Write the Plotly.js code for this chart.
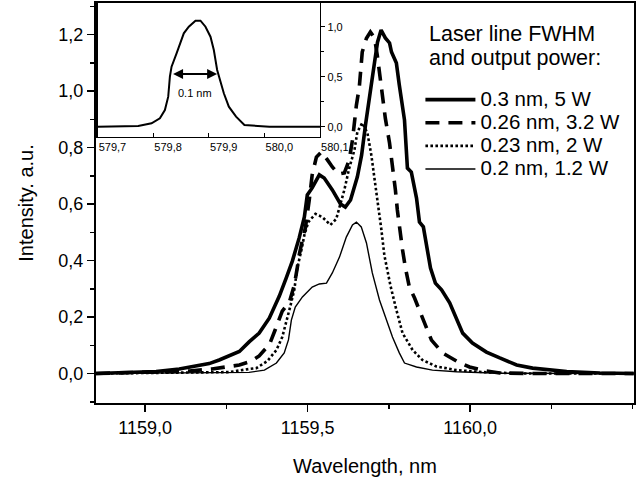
<!DOCTYPE html>
<html>
<head>
<meta charset="utf-8">
<script src="https://cdn.plot.ly/plotly-3.0.1.min.js"></script>
<style>html,body{margin:0;padding:0;background:#fff;}#chart{width:637px;height:478px;}</style>
</head>
<body>
<div id="chart"></div>
<script>
// ---- Data ----
const seriesNames = ["0.3 nm, 5 W", "0.26 nm, 3.2 W", "0.23 nm, 2 W", "0.2 nm, 1.2 W"];
const legendTitleLines = ["Laser line FWHM", "and output power:"];

const wl5W = [1158.849,1158.951,1159.034,1159.105,1159.166,1159.197,1159.228,1159.259,1159.290,1159.320,1159.351,1159.382,1159.413,1159.434,1159.453,1159.474,1159.490,1159.499,1159.514,1159.536,1159.551,1159.576,1159.601,1159.616,1159.632,1159.653,1159.666,1159.678,1159.690,1159.706,1159.715,1159.726,1159.739,1159.752,1159.758,1159.773,1159.782,1159.798,1159.807,1159.819,1159.835,1159.844,1159.856,1159.866,1159.878,1159.893,1159.912,1159.937,1159.961,1159.977,1160.007,1160.050,1160.091,1160.143,1160.192,1160.297,1160.399,1160.503];
const int5W = [0,0.004,0.007,0.016,0.027,0.035,0.048,0.062,0.078,0.112,0.143,0.196,0.274,0.338,0.398,0.480,0.554,0.632,0.657,0.703,0.692,0.650,0.600,0.589,0.614,0.696,0.773,0.880,0.968,1.103,1.173,1.216,1.188,1.170,1.138,1.099,1.021,0.897,0.727,0.713,0.621,0.536,0.519,0.455,0.373,0.320,0.296,0.250,0.189,0.143,0.108,0.076,0.055,0.030,0.019,0.007,0.002,0];

const wl3W = [1158.849,1159.012,1159.136,1159.206,1159.243,1159.290,1159.327,1159.351,1159.367,1159.382,1159.400,1159.422,1159.444,1159.459,1159.468,1159.474,1159.484,1159.493,1159.505,1159.514,1159.527,1159.542,1159.561,1159.576,1159.595,1159.613,1159.628,1159.638,1159.650,1159.659,1159.668,1159.681,1159.693,1159.706,1159.715,1159.724,1159.730,1159.739,1159.752,1159.761,1159.770,1159.776,1159.782,1159.792,1159.801,1159.813,1159.829,1159.844,1159.863,1159.881,1159.915,1159.958,1159.998,1160.050,1160.091,1160.183,1160.503];
const int3W = [0,0.004,0.009,0.016,0.023,0.030,0.044,0.062,0.083,0.101,0.154,0.221,0.253,0.313,0.373,0.419,0.473,0.515,0.614,0.703,0.766,0.784,0.756,0.731,0.706,0.710,0.756,0.826,0.950,1.014,1.138,1.187,1.209,1.187,1.120,1.039,0.968,0.904,0.816,0.738,0.650,0.579,0.515,0.437,0.373,0.306,0.267,0.225,0.172,0.118,0.073,0.044,0.023,0.009,0.002,0,0];

const wl2W = [1158.849,1159.105,1159.259,1159.320,1159.342,1159.376,1159.404,1159.422,1159.434,1159.447,1159.459,1159.468,1159.481,1159.490,1159.502,1159.524,1159.545,1159.570,1159.588,1159.601,1159.613,1159.628,1159.644,1159.653,1159.668,1159.684,1159.696,1159.705,1159.718,1159.727,1159.736,1159.746,1159.755,1159.773,1159.792,1159.823,1159.853,1159.896,1159.958,1160.038,1160.152,1160.503];
const int2W = [0,0.002,0.005,0.016,0.019,0.044,0.083,0.129,0.179,0.239,0.296,0.373,0.437,0.490,0.536,0.565,0.554,0.526,0.547,0.596,0.650,0.727,0.791,0.855,0.887,0.851,0.773,0.696,0.593,0.508,0.419,0.359,0.310,0.225,0.143,0.083,0.048,0.025,0.012,0.005,0,0];

const wl1W = [1158.849,1159.166,1159.320,1159.367,1159.404,1159.428,1159.441,1159.450,1159.462,1159.484,1159.514,1159.536,1159.558,1159.576,1159.598,1159.619,1159.638,1159.650,1159.665,1159.681,1159.699,1159.721,1159.742,1159.761,1159.782,1159.798,1159.835,1159.884,1159.958,1160.091,1160.503];
const int1W = [0,0.001,0.004,0.012,0.037,0.073,0.119,0.189,0.235,0.271,0.306,0.317,0.320,0.356,0.412,0.483,0.526,0.536,0.519,0.462,0.356,0.260,0.189,0.129,0.073,0.037,0.023,0.012,0.006,0.001,0];

// inset: laser line
const wlLaser = [579.700,579.773,579.797,579.812,579.821,579.827,579.830,579.833,579.842,579.855,579.864,579.876,579.885,579.894,579.903,579.909,579.915,579.921,579.927,579.936,579.949,579.964,579.985,580.009,580.100];
const intLaser = [0,0.007,0.034,0.084,0.167,0.300,0.500,0.600,0.734,0.934,1.000,1.060,1.060,1.000,0.900,0.767,0.567,0.450,0.334,0.200,0.100,0.017,0.007,0,0];

const mainTicks = [1159.0, 1159.5, 1160.0];
const insetXTicks = [579.7, 579.8, 579.9, 580.0, 580.1];
const fwhmMarks = [579.833, 579.915];

const FONT = "Liberation Sans, Arial, sans-serif";
const big = s => "<span style='font-size:20.5px'>" + s + "</span>";

const traces = [
  {x: wl5W, y: int5W, name: big(seriesNames[0]), mode: "lines", line: {color: "#000", width: 3.6}},
  {x: wl3W, y: int3W, name: big(seriesNames[1]), mode: "lines", line: {color: "#000", width: 3.6, dash: "14px,9px"}},
  {x: wl2W, y: int2W, name: big(seriesNames[2]), mode: "lines", line: {color: "#000", width: 2.6, dash: "2.6px,2.4px"}},
  {x: wl1W, y: int1W, name: big(seriesNames[3]), mode: "lines", line: {color: "#000", width: 1.4}},
  {x: wlLaser, y: intLaser, xaxis: "x2", yaxis: "y2", mode: "lines", showlegend: false, line: {color: "#000", width: 2}}
];

const layout = {
  width: 637, height: 478,
  margin: {l: 96, r: 3, t: 3, b: 75},
  paper_bgcolor: "#fff", plot_bgcolor: "#fff",
  separators: ", ",
  font: {family: FONT, color: "#000", size: 18},
  showlegend: true,
  xaxis: {
    domain: [0, 1],
    range: [1158.849, 1160.504],
    tickvals: mainTicks, tickformat: ".1f",
    ticks: "outside", ticklen: 7, tickwidth: 1.5, tickcolor: "#000",
    minor: {dtick: 0.25, tick0: 1159, ticks: "outside", ticklen: 4, tickwidth: 1.5, tickcolor: "#000", showgrid: false},
    showline: true, linewidth: 2, linecolor: "#000", mirror: true,
    showgrid: false, zeroline: false,
    tickfont: {size: 18},
    title: {text: "Wavelength, nm", font: {size: 20}, standoff: 22}
  },
  yaxis: {
    domain: [0, 1],
    range: [-0.1044, 1.3115],
    dtick: 0.2, tick0: 0, tickformat: ".1f",
    ticks: "outside", ticklen: 7, tickwidth: 1.5, tickcolor: "#000",
    minor: {dtick: 0.1, tick0: 0, ticks: "outside", ticklen: 4, tickwidth: 1.5, tickcolor: "#000", showgrid: false},
    showline: true, linewidth: 2, linecolor: "#000", mirror: true,
    showgrid: false, zeroline: false,
    tickfont: {size: 18},
    title: {text: "Intensity. a.u.", font: {size: 20}, standoff: 19}
  },
  xaxis2: {
    domain: [0.003, 0.4164], anchor: "y2",
    range: [579.7, 580.1],
    tickvals: insetXTicks, tickformat: ".1f",
    ticks: "inside", ticklen: 4, tickwidth: 1, tickcolor: "#000",
    ticklabelposition: "outside right",
    showline: true, linewidth: 1.2, linecolor: "#000", mirror: true,
    showgrid: false, zeroline: false,
    tickfont: {size: 11}
  },
  yaxis2: {
    domain: [0.665, 1], anchor: "x2", side: "right",
    range: [-0.103, 1.237],
    tickvals: [0, 0.5, 1.0], tickformat: ".1f",
    ticks: "outside", ticklen: 4, tickwidth: 1, tickcolor: "#000",
    minor: {tickvals: [0.25, 0.75], ticks: "outside", ticklen: 3, tickwidth: 1, tickcolor: "#000"},
    showline: true, linewidth: 1.2, linecolor: "#000", mirror: true,
    showgrid: false, zeroline: false,
    tickfont: {size: 11}
  },
  legend: {
    x: 0.603, y: 0.80, xanchor: "left", yanchor: "top",
    bgcolor: "rgba(0,0,0,0)", borderwidth: 0,
    font: {size: 15.5, family: FONT},
    itemwidth: 50, tracegroupgap: 0
  },
  annotations: [
    {xref: "paper", yref: "paper", x: 0.616, y: 0.9575, xanchor: "left", yanchor: "top", align: "left",
     text: legendTitleLines.map(s => "<span style='font-size:21.5px'>" + s + "</span>").join("<br>"),
     showarrow: false, font: {size: 18.5, family: FONT, color: "#000"}},
    {xref: "x2", yref: "y2", x: fwhmMarks[1], y: 0.527, axref: "x2", ayref: "y2", ax: fwhmMarks[0], ay: 0.527,
     text: "", showarrow: true, arrowhead: 2, startarrowhead: 2, arrowside: "end+start", arrowwidth: 2, arrowsize: 1, startarrowsize: 1, arrowcolor: "#000"},
    {xref: "x2", yref: "y2", x: 579.876, y: 0.337, text: "0.1 nm", showarrow: false, font: {size: 11, family: FONT, color: "#000"}}
  ]
};

Plotly.newPlot("chart", traces, layout, {displayModeBar: false, staticPlot: true});
</script>
</body>
</html>
